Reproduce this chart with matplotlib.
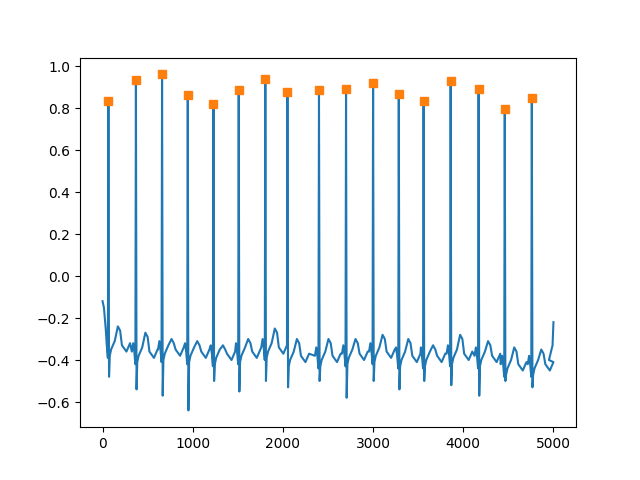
import matplotlib
matplotlib.use("Agg")
import matplotlib.pyplot as plt
import numpy as np

peak_x = [65, 370, 660, 945, 1230, 1510, 1805, 2050, 2400, 2700, 3000, 3285, 3560, 3860, 4170, 4460, 4760]
peak_y = [0.835, 0.935, 0.96, 0.86, 0.82, 0.885, 0.94, 0.875, 0.885, 0.89, 0.92, 0.865, 0.835, 0.93, 0.89, 0.795, 0.85]
trough_y = [-0.48, -0.54, -0.57, -0.64, -0.5, -0.55, -0.5, -0.53, -0.5, -0.58, -0.5, -0.54, -0.5, -0.52, -0.57, -0.5, -0.53]
base_y = [-0.33, -0.36, -0.35, -0.36, -0.37, -0.36, -0.34, -0.38, -0.38, -0.37, -0.36, -0.38, -0.38, -0.37, -0.38, -0.42, -0.42]
twave_y = [-0.24, -0.27, -0.3, -0.31, -0.33, -0.3, -0.25, -0.3, -0.3, -0.3, -0.28, -0.3, -0.33, -0.28, -0.31, -0.34, -0.35]
start_y, end_y = -0.12, -0.22

xs, ys = [0, 15, 35], [start_y, -0.15, -0.25]
for px, py, ty, by, tw in zip(peak_x, peak_y, trough_y, base_y, twave_y):
    pts = [(-45, by), (-30, by + 0.04), (-18, by), (-6, by - 0.06), (0, py),
           (7, ty), (15, by - 0.05), (30, by - 0.02), (70, by + 0.02),
           (105, tw), (130, tw - 0.02), (150, by), (200, by - 0.03), (240, by + 0.01)]
    for dx, v in pts:
        x = px + dx
        if x > xs[-1]:
            xs.append(x); ys.append(v)
xs += [4950, 4990, 5000]; ys += [-0.4, -0.33, end_y]

fig, ax = plt.subplots(figsize=(6.4, 4.8), dpi=100)
ax.plot(xs, ys, color="#1f77b4")
ax.plot(peak_x, peak_y, "s", color="#ff7f0e")
fig.savefig("out.png")
